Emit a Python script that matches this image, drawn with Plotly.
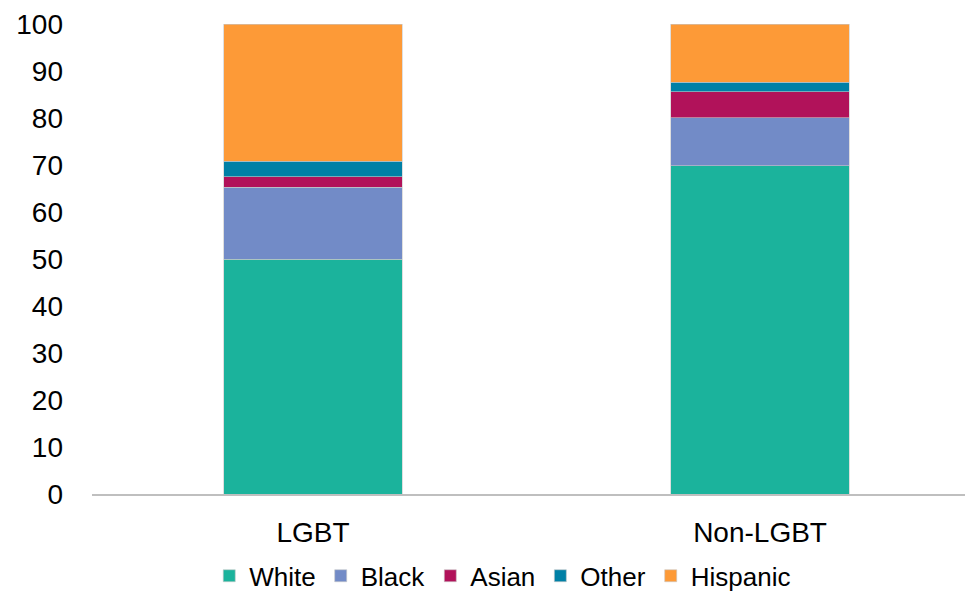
import plotly.graph_objects as go

groups = ['LGBT', 'Non-LGBT']
white = [50.0, 69.8]
black = [15.3, 10.3]
asian = [2.2, 5.5]
other = [3.3, 2.0]
hispanic = [29.2, 12.4]

series = [
    ('White', white, '#1bb39c'),
    ('Black', black, '#728bc7'),
    ('Asian', asian, '#b1125a'),
    ('Other', other, '#0080a6'),
    ('Hispanic', hispanic, '#fd9a37'),
]

fig = go.Figure()

for name, vals, color in series:
    fig.add_trace(go.Bar(
        x=groups,
        y=vals,
        name=name,
        width=0.4,
        marker=dict(color=color, line=dict(color='#c8c8c8', width=0.6))
    ))

# page body has an 8px margin, so the figure is offset by 8px in the window
fig.update_layout(
    barmode='stack',
    width=957,
    height=583,
    margin=dict(l=84, r=0, t=16, b=97, autoexpand=False),
    plot_bgcolor='white',
    paper_bgcolor='white',
    font=dict(family='Arial, Liberation Sans, sans-serif', color='black', size=28),
    showlegend=True,
    legend=dict(
        orientation='h',
        x=0.4705, xanchor='center',
        yref='container',
        y=0.026, yanchor='middle',
        font=dict(size=26),
        traceorder='normal',
        itemwidth=30,
    ),
    xaxis=dict(
        range=[-0.4945, 1.4585],
        showline=True,
        linecolor='#bfbfbf',
        linewidth=2,
        ticks='',
        tickfont=dict(size=28),
        ticklabelstandoff=12,
        automargin=False,
    ),
    yaxis=dict(
        range=[0, 100],
        tickvals=[0, 10, 20, 30, 40, 50, 60, 70, 80, 90, 100],
        showgrid=False,
        zeroline=False,
        showline=False,
        tickfont=dict(size=28),
        ticklabelstandoff=28,
        ticklabeloverflow='allow',
        automargin=False,
    ),
)

fig.write_html("out.html")
